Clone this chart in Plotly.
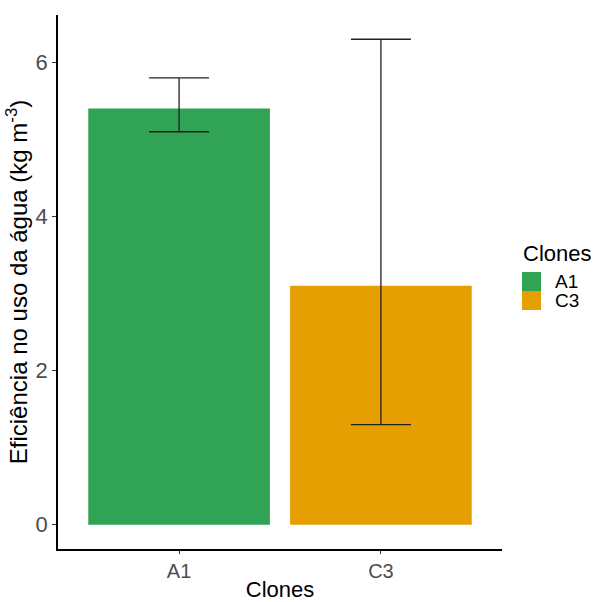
import plotly.graph_objects as go

clones = ["A1", "C3"]
means = [5.4, 3.1]
upper = [5.8, 6.3]
lower = [5.1, 1.3]
colors = ["#31A354", "#E69F00"]
y_ticks = [0, 2, 4, 6]

W, H = 598, 602
ML, MR, MT, MB = 58, 96, 15, 53
PW, PH = W - ML - MR, H - MT - MB

def px_x(px):
    return (px - ML) / PW

def px_y(py):
    return (H - MB - py) / PH

fig = go.Figure()
for c, m, u, l, col in zip(clones, means, upper, lower, colors):
    fig.add_trace(go.Bar(
        x=[c], y=[m], name=c, width=0.9, showlegend=False,
        marker=dict(color=col, line=dict(width=0)),
        error_y=dict(type="data", symmetric=False, array=[u - m], arrayminus=[m - l],
                     color="#222222", thickness=1.3, width=30),
    ))

# legend (drawn as shapes + text annotations)
shapes = []
annotations = [dict(text="Clones", xref="paper", yref="paper", x=px_x(521), y=px_y(253),
                    xanchor="left", yanchor="middle", showarrow=False,
                    font=dict(size=22, color="black"))]
key = 19
top0 = 272
for i, (c, col) in enumerate(zip(clones, colors)):
    t = top0 + i * key
    shapes.append(dict(type="rect", xref="paper", yref="paper",
                       x0=px_x(522), x1=px_x(522 + key), y0=px_y(t), y1=px_y(t + key),
                       fillcolor=col, line=dict(width=0)))
    annotations.append(dict(text=c, xref="paper", yref="paper", x=px_x(553), y=px_y(t + key / 2),
                            xanchor="left", yanchor="middle", showarrow=False,
                            font=dict(size=19, color="black")))

fig.update_layout(
    width=W, height=H,
    margin=dict(l=ML, r=MR, t=MT, b=MB),
    paper_bgcolor="white", plot_bgcolor="white",
    barmode="overlay",
    font=dict(family="Liberation Sans, Arial, sans-serif", color="black"),
    showlegend=False,
    shapes=shapes, annotations=annotations,
    xaxis=dict(
        type="category", categoryorder="array", categoryarray=clones,
        range=[-0.6, 1.6], automargin=False,
        showline=True, linecolor="black", linewidth=1.5,
        ticks="outside", ticklen=3, tickcolor="#333333",
        tickfont=dict(size=20, color="#4D4D4D"),
        title=dict(text="Clones", font=dict(size=22, color="black"), standoff=6),
        showgrid=False, zeroline=False,
    ),
    yaxis=dict(
        range=[-0.315, 6.615], automargin=False,
        tickvals=y_ticks, ticktext=[str(v) for v in y_ticks],
        showline=True, linecolor="black", linewidth=1.5,
        ticks="outside", ticklen=4, tickcolor="#333333",
        tickfont=dict(size=22, color="#4D4D4D"),
        title=dict(text="Eficiência no uso da água (kg m<sup>-3</sup>)",
                   font=dict(size=24, color="black"), standoff=1),
        showgrid=False, zeroline=False,
    ),
)

fig.write_html("out.html")
